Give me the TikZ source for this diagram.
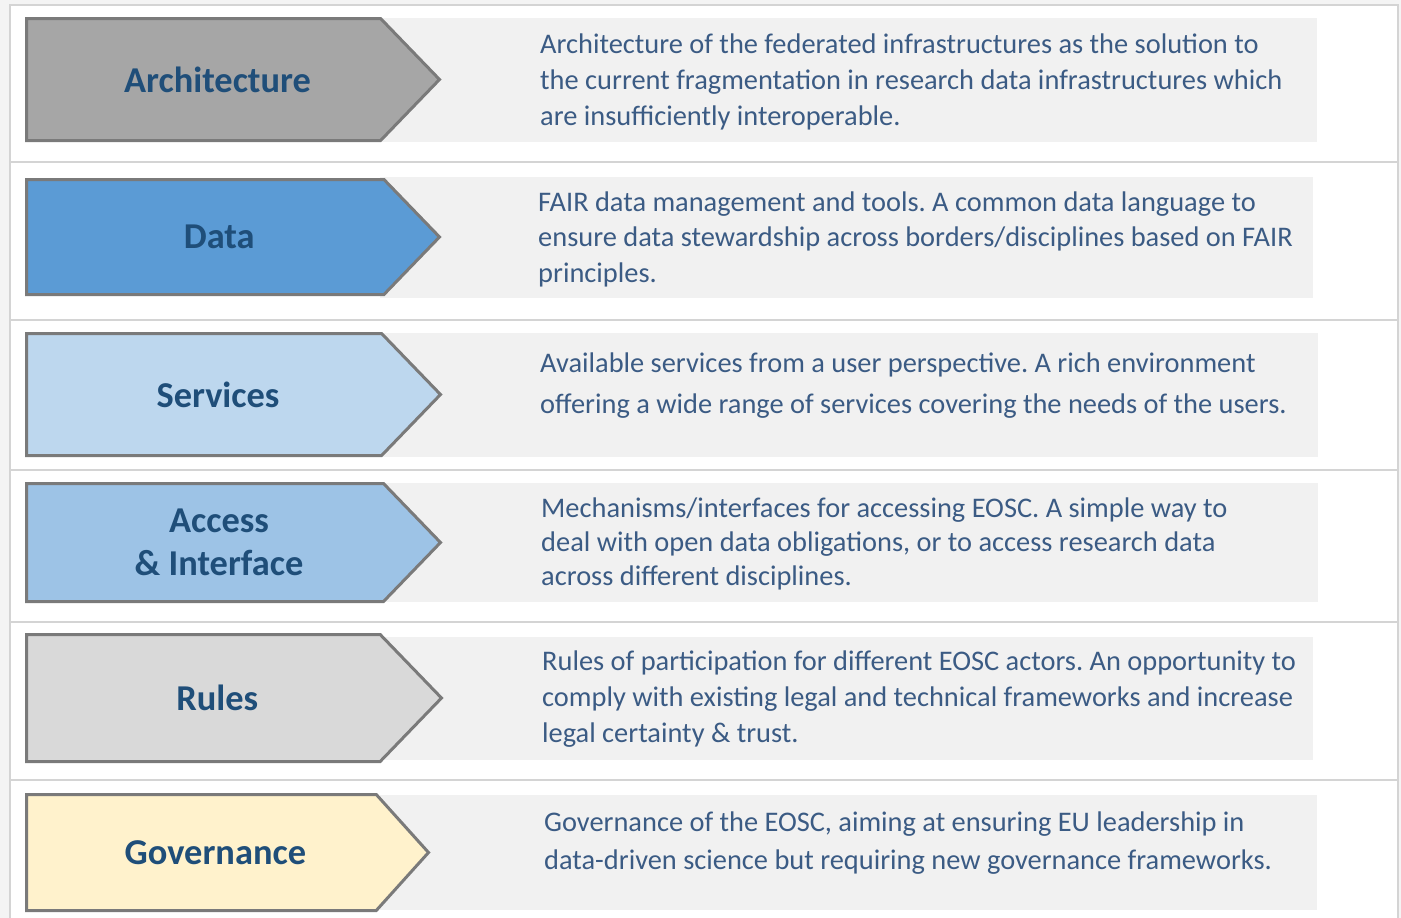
\documentclass[tikz,border=0pt]{standalone}
\usepackage{fontspec}
\setmainfont{Carlito}
\usepackage{tikz}
\usetikzlibrary{shapes.symbols}
\frenchspacing
\definecolor{pagegray}{HTML}{F4F4F4}
\definecolor{sepgray}{HTML}{D4D4D4}
\definecolor{boxgray}{HTML}{F1F1F1}
\definecolor{bordergray}{HTML}{7A7A7A}
\definecolor{titleblue}{HTML}{1F4E79}
\definecolor{descblue}{HTML}{3B5B84}
\definecolor{archgray}{HTML}{A6A6A6}
\definecolor{datablue}{HTML}{5B9BD5}
\definecolor{servblue}{HTML}{BDD7EE}
\definecolor{accblue}{HTML}{9DC3E6}
\definecolor{rulegray}{HTML}{D9D9D9}
\definecolor{govyellow}{HTML}{FFF2CC}
\tikzstyle{stage} = [signal, signal to=east, signal pointer angle=92, draw=bordergray, line width=3pt, anchor=west]
\tikzstyle{title} = [text=titleblue, font=\bfseries\fontsize{36.4}{43}\selectfont, align=center, xshift=14pt]
\tikzstyle{descbox} = [rectangle, fill=boxgray, anchor=west, inner sep=0pt]
\tikzstyle{desc} = [anchor=west, align=left, text=descblue, inner sep=0pt]
\tikzstyle{sep} = [draw=sepgray, line width=1.5pt]

\begin{document}
\begin{tikzpicture}[x=1pt, y=-1pt]
\useasboundingbox (0,0) rectangle (1401,918);
\fill [pagegray] (0,0) rectangle (1401,918);
\fill [white] (10,5) rectangle (1398,918);
\draw [sep] (10,918) -- (10,5) -- (1398,5) -- (1398,918);
\draw [sep] (10,162) -- (1398,162);
\draw [sep] (10,320) -- (1398,320);
\draw [sep] (10,470) -- (1398,470);
\draw [sep] (10,622) -- (1398,622);
\draw [sep] (10,780) -- (1398,780);

% grey boxes behind the text
\node (archbox) [descbox, minimum width=937, minimum height=124] at (380,80) {};
\node (databox) [descbox, minimum width=933, minimum height=121] at (380,237.5) {};
\node (servbox) [descbox, minimum width=938, minimum height=124] at (380,395) {};
\node (accbox) [descbox, minimum width=938, minimum height=119] at (380,542.5) {};
\node (rulebox) [descbox, minimum width=933, minimum height=123] at (380,698.5) {};
\node (govbox) [descbox, minimum width=937, minimum height=115] at (380,852.5) {};

% the stages
\node (arch) [stage, fill=archgray, minimum width=413, minimum height=122, label={[title]center:Architecture}] at (25,79.5) {};
\node (data) [stage, fill=datablue, minimum width=413, minimum height=115, label={[title]center:Data}] at (25,237) {};
\node (serv) [stage, fill=servblue, minimum width=414, minimum height=122, label={[title]center:Services}] at (25,394.5) {};
\node (acc) [stage, fill=accblue, minimum width=414, minimum height=118, label={[title]center:Access\\\& Interface}] at (25,542.5) {};
\node (rule) [stage, fill=rulegray, minimum width=415, minimum height=127, label={[title]center:Rules}] at (25,698) {};
\node (gov) [stage, fill=govyellow, signal pointer angle=96, minimum width=402, minimum height=116, label={[title]center:Governance}] at (25,852.5) {};

% descriptions
\node (archtxt) [desc, font=\fontsize{28.4}{36}\selectfont] at (540,82) {Architecture of the federated infrastructures as the solution to\\the current fragmentation in research data infrastructures which\\are insufficiently interoperable.};
\node (datatxt) [desc, font=\fontsize{28.4}{35.5}\selectfont] at (538,239) {FAIR data management and tools. A common data language to\\ensure data stewardship across borders/disciplines based on FAIR\\principles.};
\node (servtxt) [desc, font=\fontsize{28.4}{41}\selectfont] at (540,386) {Available services from a user perspective. A rich environment\\offering a wide range of services covering the needs of the users.};
\node (acctxt) [desc, font=\fontsize{28.4}{34}\selectfont] at (541,544) {Mechanisms/interfaces for accessing EOSC. A simple way to\\deal with open data obligations, or to access research data\\across different disciplines.};
\node (ruletxt) [desc, font=\fontsize{28.4}{36}\selectfont] at (542,699) {Rules of participation for different EOSC actors. An opportunity to\\comply with existing legal and technical frameworks and increase\\legal certainty \& trust.};
\node (govtxt) [desc, font=\fontsize{28.4}{38}\selectfont] at (544,843) {Governance of the EOSC, aiming at ensuring EU leadership in\\data-driven science but requiring new governance frameworks.};
\end{tikzpicture}
\end{document}
